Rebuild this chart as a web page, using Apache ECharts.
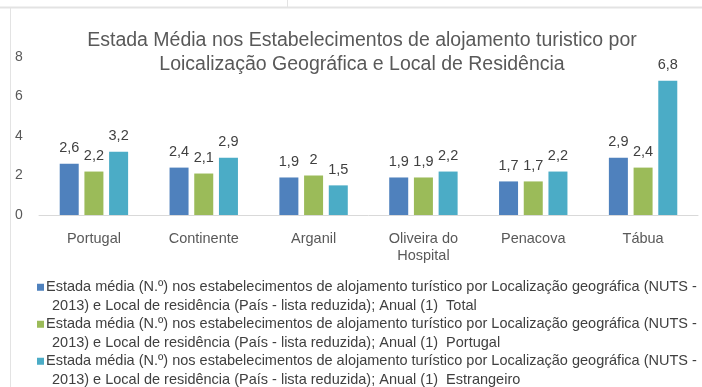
<!DOCTYPE html>
<html>
<head>
<meta charset="utf-8">
<script src="https://cdn.jsdelivr.net/npm/echarts@6/dist/echarts.min.js"></script>
<style>
  html, body { margin: 0; padding: 0; background: #ffffff; }
  #chart { width: 702px; height: 387px; }
</style>
</head>
<body>
<div id="chart"></div>
<script>
// Locations (NUTS 2013) shown on the category axis
const categories = ['Portugal', 'Continente', 'Arganil', 'Oliveira do\nHospital', 'Penacova', 'Tábua'];

// Average stay (nights) by place of residence
const totalValues = [2.6, 2.4, 1.9, 1.9, 1.7, 2.9];
const portugalValues = [2.2, 2.1, 2.0, 1.9, 1.7, 2.4];
const estrangeiroValues = [3.2, 2.9, 1.5, 2.2, 2.2, 6.8];

const yTicks = { min: 0, max: 8, interval: 2 };

const legendPrefix = 'Estada média (N.º) nos estabelecimentos de alojamento turístico por Localização geográfica (NUTS -\n2013) e Local de residência (País - lista reduzida); Anual (1)  ';
const seriesNames = [legendPrefix + 'Total', legendPrefix + 'Portugal', legendPrefix + 'Estrangeiro'];
const colors = ['#4F81BD', '#9BBB59', '#4BACC6'];

const FONT = "'Liberation Sans', Arial, sans-serif";

// legend geometry: marker sits beside the first line of each two-line entry
const LEGEND_LINE = 18.5;
const MARKER = 7;
const ICON_H = LEGEND_LINE + MARKER;
const legendIcon = 'path://M0,0L' + MARKER + ',0L' + MARKER + ',' + MARKER + 'L0,' + MARKER +
  'Z M0,' + ICON_H + 'L0.01,' + ICON_H + 'L0.01,' + (ICON_H - 0.01) + 'Z';

const chart = echarts.init(document.getElementById('chart'), null, { renderer: 'canvas' });

function barSeries(name, data, color) {
  return {
    name: name,
    type: 'bar',
    data: data,
    barWidth: 19,
    barGap: '30%',
    itemStyle: { color: color },
    label: {
      show: true,
      position: 'top',
      distance: 8,
      color: '#404040',
      fontFamily: FONT,
      fontSize: 14.5,
      formatter: p => String(p.value).replace('.', ',')
    }
  };
}

chart.setOption({
  animation: false,
  backgroundColor: '#ffffff',
  title: {
    text: 'Estada Média nos Estabelecimentos de alojamento turistico por\nLoicalização Geográfica e Local de Residência',
    left: 357,
    textAlign: 'center',
    top: 24,
    textStyle: {
      fontFamily: FONT,
      fontSize: 19.5,
      fontWeight: 'normal',
      color: '#595959',
      lineHeight: 24
    }
  },
  grid: { left: 39, right: 4, top: 57, height: 158, containLabel: false },
  xAxis: {
    type: 'category',
    data: categories,
    axisLine: { lineStyle: { color: '#d9d9d9', width: 1 } },
    axisTick: { show: false },
    axisLabel: {
      color: '#595959',
      fontFamily: FONT,
      fontSize: 14.5,
      margin: 15,
      lineHeight: 17
    }
  },
  yAxis: {
    type: 'value',
    min: yTicks.min,
    max: yTicks.max,
    interval: yTicks.interval,
    splitLine: { show: false },
    axisLine: { show: false },
    axisTick: { show: false },
    axisLabel: {
      color: '#595959',
      fontFamily: FONT,
      fontSize: 14,
      align: 'left',
      margin: 24
    }
  },
  legend: {
    orient: 'vertical',
    left: 37,
    top: 278,
    height: 130,
    padding: 0,
    itemWidth: MARKER,
    itemHeight: ICON_H,
    itemGap: 0,
    icon: legendIcon,
    formatter: name => {
      const lines = name.split('\n');
      return '{a|' + lines[0] + '}\n{b|' + lines[1] + '}';
    },
    textStyle: {
      color: '#404040',
      fontFamily: FONT,
      fontSize: 14.5,
      lineHeight: LEGEND_LINE,
      padding: [0, 0, 0, -3],
      rich: {
        a: { color: '#404040', fontFamily: FONT, fontSize: 14.5, lineHeight: LEGEND_LINE },
        b: { color: '#404040', fontFamily: FONT, fontSize: 14.5, lineHeight: LEGEND_LINE, padding: [0, 0, 0, 6] }
      }
    },
    data: seriesNames
  },
  graphic: [
    { type: 'line', shape: { x1: 0, y1: 7.5, x2: 702, y2: 7.5 }, style: { stroke: '#e3e3e3', lineWidth: 2 }, silent: true },
    { type: 'line', shape: { x1: 10.5, y1: 8, x2: 10.5, y2: 387 }, style: { stroke: '#e3e3e3', lineWidth: 1 }, silent: true },
    { type: 'line', shape: { x1: 287.5, y1: 0, x2: 287.5, y2: 7 }, style: { stroke: '#e3e3e3', lineWidth: 1 }, silent: true }
  ],
  series: [
    barSeries(seriesNames[0], totalValues, colors[0]),
    barSeries(seriesNames[1], portugalValues, colors[1]),
    barSeries(seriesNames[2], estrangeiroValues, colors[2])
  ]
});
</script>
</body>
</html>
